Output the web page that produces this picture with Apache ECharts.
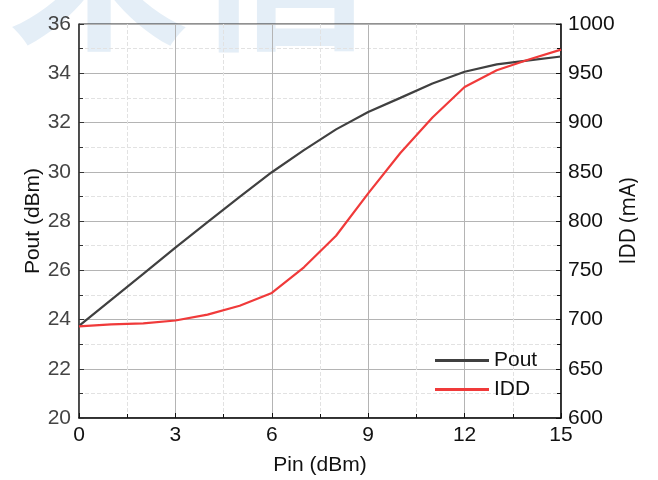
<!DOCTYPE html>
<html>
<head>
<meta charset="utf-8">
<script src="https://cdn.jsdelivr.net/npm/echarts@6/dist/echarts.min.js"></script>
<style>
  html, body { margin: 0; padding: 0; background: #fff; }
  #chart { width: 658px; height: 480px; }
</style>
</head>
<body>
<div id="chart"></div>
<script>
  // 输入功率 (dBm)
  var pin = [0, 1, 2, 3, 4, 5, 6, 7, 8, 9, 10, 11, 12, 13, 14, 15]
  // 输出功率 (dBm)
  var pout = [23.74, 24.8, 25.85, 26.92, 27.95, 28.98, 29.98, 30.88, 31.72, 32.43, 33.0, 33.58, 34.06, 34.36, 34.52, 34.68]
  // 漏极电流 (mA)
  var idd = [693, 695, 696, 699, 705, 714, 727, 753, 785, 828, 869, 905, 936, 953, 964, 974]

  var font = 'Liberation Sans, Arial, sans-serif'

  function pairs(ys) {
    return pin.map(function (x, i) { return [x, ys[i]] })
  }

  var chart = echarts.init(document.getElementById('chart'))
  chart.setOption({
    animation: false,
    textStyle: { fontFamily: font },
    graphic: [
      {
        type: 'text',
        left: 8,
        top: -125,
        silent: true,
        z: -10,
        style: {
          text: '来信',
          fontSize: 182,
          fontWeight: 'bold',
          fontFamily: 'Noto Sans CJK SC',
          fill: '#e4eef7'
        }
      }
    ],
    grid: {
      left: 79, right: 97, top: 24, bottom: 62,
      outerBoundsMode: 'none',
      show: true, borderColor: '#222', borderWidth: 1,
      backgroundColor: 'transparent'
    },
    legend: {
      orient: 'vertical',
      left: 430, top: 345,
      icon: 'rect',
      itemWidth: 54, itemHeight: 3, itemGap: 8,
      textStyle: { fontSize: 21, color: '#111', fontFamily: font },
      data: ['Pout', 'IDD']
    },
    xAxis: {
      type: 'value', min: 0, max: 15, interval: 3,
      name: 'Pin (dBm)', nameLocation: 'middle', nameGap: 37, nameMoveOverlap: false,
      nameTextStyle: { fontSize: 21, color: '#111' },
      axisLine: { lineStyle: { color: '#111', width: 1.5 } },
      axisTick: { inside: true, length: 5, lineStyle: { color: '#111' } },
      minorTick: { show: true, splitNumber: 2, length: 4, lineStyle: { color: '#111' } },
      axisLabel: { fontSize: 21, color: '#111', margin: 7 },
      splitLine: { show: true, lineStyle: { color: '#b4b4b4', width: 1 } },
      minorSplitLine: { show: true, lineStyle: { color: '#e2e2e2', type: 'dashed' } }
    },
    yAxis: [
      {
        type: 'value', min: 20, max: 36, interval: 2,
        name: 'Pout (dBm)', nameLocation: 'middle', nameGap: 35, nameRotate: 90, nameMoveOverlap: false,
        nameTextStyle: { fontSize: 21, color: '#111' },
        axisLine: { show: true, lineStyle: { color: '#333', width: 1.5 } },
        axisTick: { show: true, inside: true, length: 5, lineStyle: { color: '#333' } },
        minorTick: { show: true, splitNumber: 2, length: 4, lineStyle: { color: '#333' } },
        axisLabel: { fontSize: 21, color: '#444', margin: 8 },
        splitLine: { show: true, lineStyle: { color: '#b4b4b4', width: 1 } },
        minorSplitLine: { show: true, lineStyle: { color: '#e2e2e2', type: 'dashed' } }
      },
      {
        type: 'value', min: 600, max: 1000, interval: 50,
        name: 'IDD (mA)', nameLocation: 'middle', nameGap: 58, nameRotate: 90, nameMoveOverlap: false,
        nameTextStyle: { fontSize: 21, color: '#111', fontFamily: 'Open Sans' },
        axisLine: { show: true, lineStyle: { color: '#111', width: 1.5 } },
        axisTick: { show: true, inside: true, length: 5, lineStyle: { color: '#111' } },
        minorTick: { show: true, splitNumber: 2, length: 4, lineStyle: { color: '#111' } },
        axisLabel: { fontSize: 21, color: '#111', margin: 7, formatter: function (v) { return String(v) } },
        splitLine: { show: false }
      }
    ],
    series: [
      {
        name: 'Pout', type: 'line', yAxisIndex: 0,
        symbol: 'none', smooth: false,
        lineStyle: { color: '#404040', width: 2.2 },
        itemStyle: { color: '#404040' },
        data: pairs(pout)
      },
      {
        name: 'IDD', type: 'line', yAxisIndex: 1,
        symbol: 'none', smooth: false,
        lineStyle: { color: '#f03a3a', width: 2.2 },
        itemStyle: { color: '#f03a3a' },
        data: pairs(idd)
      }
    ]
  })
</script>
</body>
</html>
